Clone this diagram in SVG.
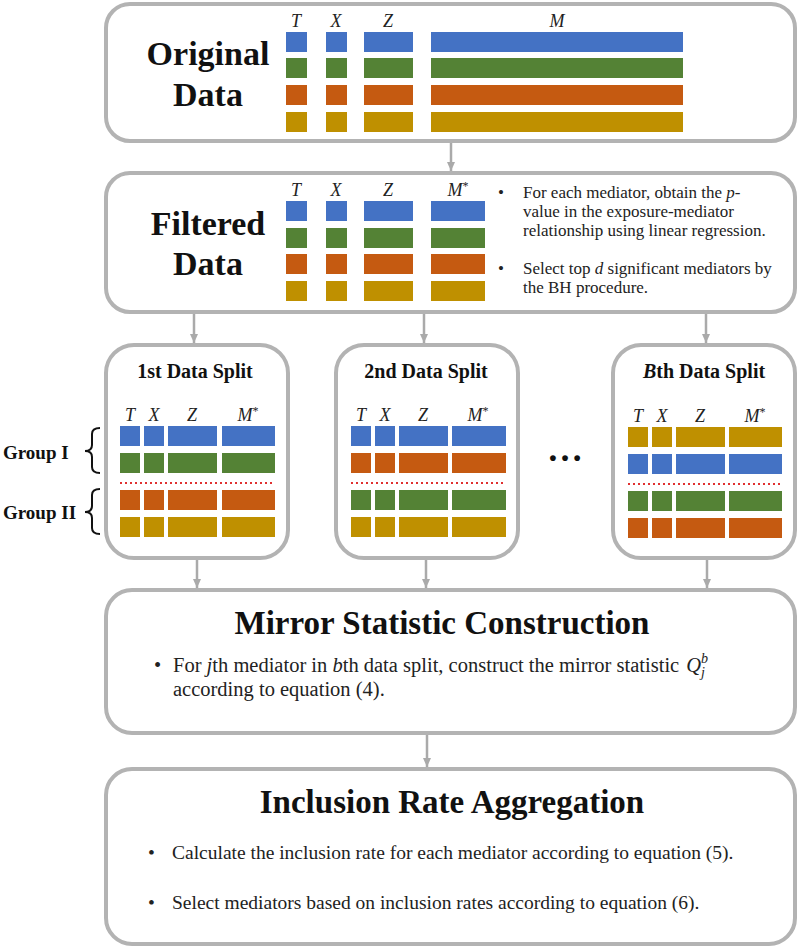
<svg xmlns="http://www.w3.org/2000/svg" width="800" height="950" viewBox="0 0 800 950">
<style>
.box{fill:#fff;stroke:#b3b3b3;stroke-width:4}
.b{fill:#4472C4}.g{fill:#548235}.o{fill:#C55A11}.y{fill:#BF9000}
.big{font-family:"Liberation Serif",serif;font-weight:bold;font-size:34px;fill:#111;text-anchor:middle}
.title{font-family:"Liberation Serif",serif;font-weight:bold;font-size:33px;fill:#111;text-anchor:middle}
.st{font-family:"Liberation Serif",serif;font-weight:bold;font-size:20px;fill:#111;text-anchor:middle}
.grp{font-family:"Liberation Serif",serif;font-weight:bold;font-size:19px;fill:#111}
.lab{font-family:"Liberation Serif",serif;font-style:italic;font-size:18px;fill:#222;text-anchor:middle}
.txt{font-family:"Liberation Serif",serif;font-size:17px;fill:#222}
.txt2{font-family:"Liberation Serif",serif;font-size:20.5px;fill:#222}
.txt3{font-family:"Liberation Serif",serif;font-size:19.5px;fill:#222}
.i{font-style:italic}
.conn{stroke:#aaaaaa;stroke-width:2.5;fill:none}
.dot{stroke:#e03030;stroke-width:2;stroke-dasharray:2,3;fill:none}
.brace{stroke:#111;stroke-width:2;fill:none}
</style>
<defs>
<marker id="arr" markerUnits="userSpaceOnUse" markerWidth="10" markerHeight="10" refX="9" refY="5" orient="auto">
<path d="M0,1 L9,5 L0,9 z" fill="#aaaaaa"/>
</marker>
</defs>

<g id="connectors">
<line class="conn" x1="451" y1="142" x2="451" y2="171" marker-end="url(#arr)"/>
<line class="conn" x1="194" y1="314" x2="194" y2="343" marker-end="url(#arr)"/>
<line class="conn" x1="424" y1="314" x2="424" y2="343" marker-end="url(#arr)"/>
<line class="conn" x1="706" y1="314" x2="706" y2="343" marker-end="url(#arr)"/>
<line class="conn" x1="197" y1="560" x2="197" y2="588" marker-end="url(#arr)"/>
<line class="conn" x1="426" y1="560" x2="426" y2="588" marker-end="url(#arr)"/>
<line class="conn" x1="707" y1="560" x2="707" y2="588" marker-end="url(#arr)"/>
<line class="conn" x1="427" y1="735" x2="427" y2="767" marker-end="url(#arr)"/>
</g>

<g id="original">
<rect class="box" x="106" y="4" width="689" height="137" rx="24"/>
<text class="big" x="208" y="65">Original</text>
<text class="big" x="208" y="106">Data</text>
<text class="lab" x="296" y="27">T</text>
<text class="lab" x="336" y="27">X</text>
<text class="lab" x="388" y="27">Z</text>
<text class="lab" x="557" y="27">M</text>
<rect class="b" x="286" y="32" width="21" height="20"/><rect class="b" x="326" y="32" width="21" height="20"/><rect class="b" x="364" y="32" width="49" height="20"/><rect class="b" x="431" y="32" width="252" height="20"/>
<rect class="g" x="286" y="58" width="21" height="20"/><rect class="g" x="326" y="58" width="21" height="20"/><rect class="g" x="364" y="58" width="49" height="20"/><rect class="g" x="431" y="58" width="252" height="20"/>
<rect class="o" x="286" y="85" width="21" height="20"/><rect class="o" x="326" y="85" width="21" height="20"/><rect class="o" x="364" y="85" width="49" height="20"/><rect class="o" x="431" y="85" width="252" height="20"/>
<rect class="y" x="286" y="112" width="21" height="20"/><rect class="y" x="326" y="112" width="21" height="20"/><rect class="y" x="364" y="112" width="49" height="20"/><rect class="y" x="431" y="112" width="252" height="20"/>
</g>

<g id="filtered">
<rect class="box" x="106" y="173" width="689" height="139" rx="24"/>
<text class="big" x="208" y="235">Filtered</text>
<text class="big" x="208" y="275">Data</text>
<text class="lab" x="296" y="196">T</text>
<text class="lab" x="336" y="196">X</text>
<text class="lab" x="388" y="196">Z</text>
<text class="lab" x="458" y="196">M<tspan dy="-6" font-size="12" font-style="normal">*</tspan></text>
<rect class="b" x="286" y="201" width="21" height="20"/><rect class="b" x="326" y="201" width="21" height="20"/><rect class="b" x="364" y="201" width="49" height="20"/><rect class="b" x="431" y="201" width="54" height="20"/>
<rect class="g" x="286" y="228" width="21" height="20"/><rect class="g" x="326" y="228" width="21" height="20"/><rect class="g" x="364" y="228" width="49" height="20"/><rect class="g" x="431" y="228" width="54" height="20"/>
<rect class="o" x="286" y="254" width="21" height="20"/><rect class="o" x="326" y="254" width="21" height="20"/><rect class="o" x="364" y="254" width="49" height="20"/><rect class="o" x="431" y="254" width="54" height="20"/>
<rect class="y" x="286" y="281" width="21" height="20"/><rect class="y" x="326" y="281" width="21" height="20"/><rect class="y" x="364" y="281" width="49" height="20"/><rect class="y" x="431" y="281" width="54" height="20"/>
<text class="txt" x="498" y="198">•</text>
<text class="txt" x="523" y="198">For each mediator, obtain the <tspan class="i">p</tspan>-</text>
<text class="txt" x="523" y="217">value in the exposure-mediator</text>
<text class="txt" x="523" y="236">relationship using linear regression.</text>
<text class="txt" x="498" y="274">•</text>
<text class="txt" x="523" y="274">Select top <tspan class="i">d</tspan> significant mediators by</text>
<text class="txt" x="523" y="293">the BH procedure.</text>
</g>

<g id="split1">
<rect class="box" x="106" y="345" width="182" height="213" rx="28"/>
<text class="st" x="195" y="378">1st Data Split</text>
<text class="lab" x="130" y="421">T</text><text class="lab" x="154" y="421">X</text><text class="lab" x="192" y="421">Z</text>
<text class="lab" x="248" y="421">M<tspan dy="-6" font-size="12" font-style="normal">*</tspan></text>
<rect class="b" x="120" y="426" width="20" height="20"/><rect class="b" x="144" y="426" width="20" height="20"/><rect class="b" x="168" y="426" width="49" height="20"/><rect class="b" x="222" y="426" width="53" height="20"/>
<rect class="g" x="120" y="453" width="20" height="20"/><rect class="g" x="144" y="453" width="20" height="20"/><rect class="g" x="168" y="453" width="49" height="20"/><rect class="g" x="222" y="453" width="53" height="20"/>
<line class="dot" x1="120" y1="483" x2="275" y2="483"/>
<rect class="o" x="120" y="490" width="20" height="20"/><rect class="o" x="144" y="490" width="20" height="20"/><rect class="o" x="168" y="490" width="49" height="20"/><rect class="o" x="222" y="490" width="53" height="20"/>
<rect class="y" x="120" y="517" width="20" height="20"/><rect class="y" x="144" y="517" width="20" height="20"/><rect class="y" x="168" y="517" width="49" height="20"/><rect class="y" x="222" y="517" width="53" height="20"/>
</g>

<g id="groups">
<text class="grp" x="3" y="459">Group I</text>
<path class="brace" d="M100,428 Q92,428 92,434 L92,445 Q92,451 85,451 Q92,451 92,457 L92,467 Q92,473 100,473"/>
<text class="grp" x="3" y="519">Group II</text>
<path class="brace" d="M100,489 Q92,489 92,495 L92,506 Q92,512 85,512 Q92,512 92,518 L92,528 Q92,534 100,534"/>
</g>

<g id="split2">
<rect class="box" x="336" y="345" width="182" height="213" rx="28"/>
<text class="st" x="426" y="378">2nd Data Split</text>
<text class="lab" x="361" y="421">T</text><text class="lab" x="385" y="421">X</text><text class="lab" x="423" y="421">Z</text>
<text class="lab" x="478" y="421">M<tspan dy="-6" font-size="12" font-style="normal">*</tspan></text>
<rect class="b" x="351" y="426" width="20" height="20"/><rect class="b" x="375" y="426" width="20" height="20"/><rect class="b" x="399" y="426" width="49" height="20"/><rect class="b" x="452" y="426" width="54" height="20"/>
<rect class="o" x="351" y="453" width="20" height="20"/><rect class="o" x="375" y="453" width="20" height="20"/><rect class="o" x="399" y="453" width="49" height="20"/><rect class="o" x="452" y="453" width="54" height="20"/>
<line class="dot" x1="351" y1="483" x2="506" y2="483"/>
<rect class="g" x="351" y="490" width="20" height="20"/><rect class="g" x="375" y="490" width="20" height="20"/><rect class="g" x="399" y="490" width="49" height="20"/><rect class="g" x="452" y="490" width="54" height="20"/>
<rect class="y" x="351" y="517" width="20" height="20"/><rect class="y" x="375" y="517" width="20" height="20"/><rect class="y" x="399" y="517" width="49" height="20"/><rect class="y" x="452" y="517" width="54" height="20"/>
</g>

<g id="ellipsis">
<text x="565" y="461" font-family="Liberation Serif, serif" font-weight="bold" font-size="36" fill="#111" text-anchor="middle">…</text>
</g>

<g id="splitB">
<rect class="box" x="613" y="345" width="182" height="213" rx="28"/>
<text class="st" x="704" y="378"><tspan class="i">B</tspan>th Data Split</text>
<text class="lab" x="638" y="422">T</text><text class="lab" x="662" y="422">X</text><text class="lab" x="700" y="422">Z</text>
<text class="lab" x="755" y="422">M<tspan dy="-6" font-size="12" font-style="normal">*</tspan></text>
<rect class="y" x="628" y="427" width="20" height="20"/><rect class="y" x="652" y="427" width="20" height="20"/><rect class="y" x="676" y="427" width="49" height="20"/><rect class="y" x="729" y="427" width="53" height="20"/>
<rect class="b" x="628" y="454" width="20" height="20"/><rect class="b" x="652" y="454" width="20" height="20"/><rect class="b" x="676" y="454" width="49" height="20"/><rect class="b" x="729" y="454" width="53" height="20"/>
<line class="dot" x1="628" y1="484" x2="782" y2="484"/>
<rect class="g" x="628" y="491" width="20" height="20"/><rect class="g" x="652" y="491" width="20" height="20"/><rect class="g" x="676" y="491" width="49" height="20"/><rect class="g" x="729" y="491" width="53" height="20"/>
<rect class="o" x="628" y="518" width="20" height="20"/><rect class="o" x="652" y="518" width="20" height="20"/><rect class="o" x="676" y="518" width="49" height="20"/><rect class="o" x="729" y="518" width="53" height="20"/>
</g>

<g id="mirror">
<rect class="box" x="106" y="590" width="689" height="143" rx="26"/>
<text class="title" x="442" y="634">Mirror Statistic Construction</text>
<text class="txt2" x="154" y="672">•</text>
<text class="txt2" x="173" y="672">For <tspan class="i">j</tspan>th mediator in <tspan class="i">b</tspan>th data split, construct the mirror statistic <tspan class="i" dx="2">Q</tspan><tspan class="i" font-size="14" dy="-9">b</tspan><tspan class="i" font-size="14" dx="-7" dy="14">j</tspan></text>
<text class="txt2" x="173" y="696">according to equation (4).</text>
</g>

<g id="inclusion">
<rect class="box" x="106" y="769" width="689" height="175" rx="26"/>
<text class="title" x="452" y="813">Inclusion Rate Aggregation</text>
<text class="txt3" x="148" y="859">•</text>
<text class="txt3" x="172" y="859">Calculate the inclusion rate for each mediator according to equation (5).</text>
<text class="txt3" x="148" y="909">•</text>
<text class="txt3" x="172" y="909">Select mediators based on inclusion rates according to equation (6).</text>
</g>
</svg>
